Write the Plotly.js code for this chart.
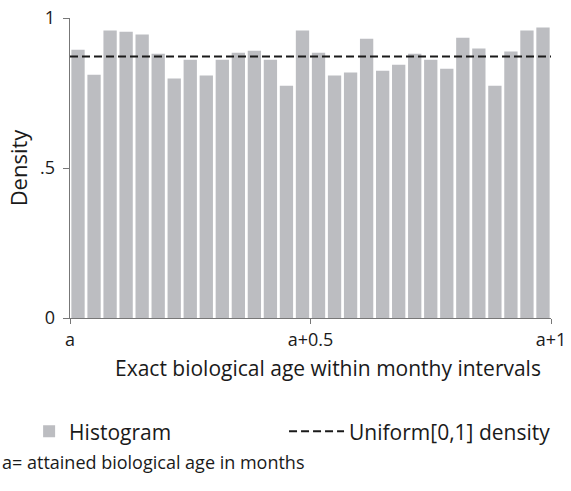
<!DOCTYPE html>
<html>
<head>
<meta charset="utf-8">
<script src="https://cdn.plot.ly/plotly-3.0.1.min.js"></script>
<style>html,body{margin:0;padding:0;background:#fff;}#chart{width:571px;height:491px;}</style>
</head>
<body>
<div id="chart"></div>
<script>
// Bin midpoints (30 equal bins on [0,1])
const binCenters = Array.from({length: 30}, (_, i) => (i + 0.5) / 30);
const densities = [0.894, 0.811, 0.958, 0.954, 0.945, 0.881, 0.798, 0.861, 0.808, 0.861,
                   0.884, 0.891, 0.861, 0.774, 0.958, 0.884, 0.808, 0.818, 0.931, 0.824,
                   0.844, 0.881, 0.861, 0.831, 0.934, 0.898, 0.774, 0.888, 0.958, 0.968];
const uniformX = [0, 1];
const uniformY = [0.872, 0.872];
const xTickVals = [0, 0.5, 1];
const xTickText = ["a", "a+0.5", "a+1"];
const yTickVals = [0, 0.5, 1];
const yTickText = ["0", ".5", "1"];
const xTitle = "Exact biological age within monthy intervals";
const footnote = "a= attained biological age in months";

const FONT = "'Open Sans', Lato, sans-serif";
const INK = "#1a1a1a";

const traces = [
  {
    type: "bar", x: binCenters, y: densities, name: "Histogram",
    width: 1/30 * 0.83,
    marker: {color: "#bcbdc1", line: {width: 0}},
    legend: "legend"
  },
  {
    type: "scatter", mode: "lines", x: uniformX, y: uniformY,
    name: "Uniform[0,1] density",
    line: {color: INK, width: 2, dash: "8px,4px"},
    legend: "legend2"
  }
];

const legendBase = {
  orientation: "h", xanchor: "left", y: -0.379, yanchor: "middle",
  font: {family: FONT, size: 21, color: INK},
  bgcolor: "rgba(0,0,0,0)", itemwidth: 30
};

const layout = {
  width: 571, height: 491,
  margin: {l: 70, r: 20, t: 18, b: 173},
  paper_bgcolor: "#ffffff", plot_bgcolor: "#ffffff",
  font: {family: FONT, color: INK, size: 16},
  showlegend: true,
  legend: Object.assign({}, legendBase, {x: -0.085}),
  legend2: Object.assign({}, legendBase, {x: 0.445, itemwidth: 55}),
  xaxis: {
    range: [0, 1], tickvals: xTickVals, ticktext: xTickText,
    showgrid: false, zeroline: false, showline: true, linecolor: "#777", linewidth: 1.3,
    ticks: "outside", ticklen: 5, tickcolor: "#777", tickwidth: 1,
    tickfont: {family: FONT, size: 18, color: INK}
  },
  yaxis: {
    range: [0, 1], tickvals: yTickVals, ticktext: yTickText, tickangle: 0,
    showgrid: false, zeroline: false, showline: true, linecolor: "#777", linewidth: 1.3,
    ticks: "outside", ticklen: 6, tickcolor: "#777", tickwidth: 1,
    ticklabelstandoff: 4,
    tickfont: {family: FONT, size: 18, color: INK},
    title: {text: "Density", font: {family: FONT, size: 22, color: INK}, standoff: 6}
  },
  bargap: 0.17,
  annotations: [
    {
      text: xTitle, xref: "paper", yref: "paper",
      x: 0.536, y: -0.166, xanchor: "center", yanchor: "middle", showarrow: false,
      font: {family: FONT, size: 21, color: INK}
    },
    {
      text: footnote, xref: "paper", yref: "paper",
      x: -0.1455, y: -0.479, xanchor: "left", yanchor: "middle", showarrow: false,
      font: {family: FONT, size: 18, color: INK}
    }
  ]
};

Plotly.newPlot("chart", traces, layout, {displayModeBar: false, staticPlot: true});
</script>
</body>
</html>
